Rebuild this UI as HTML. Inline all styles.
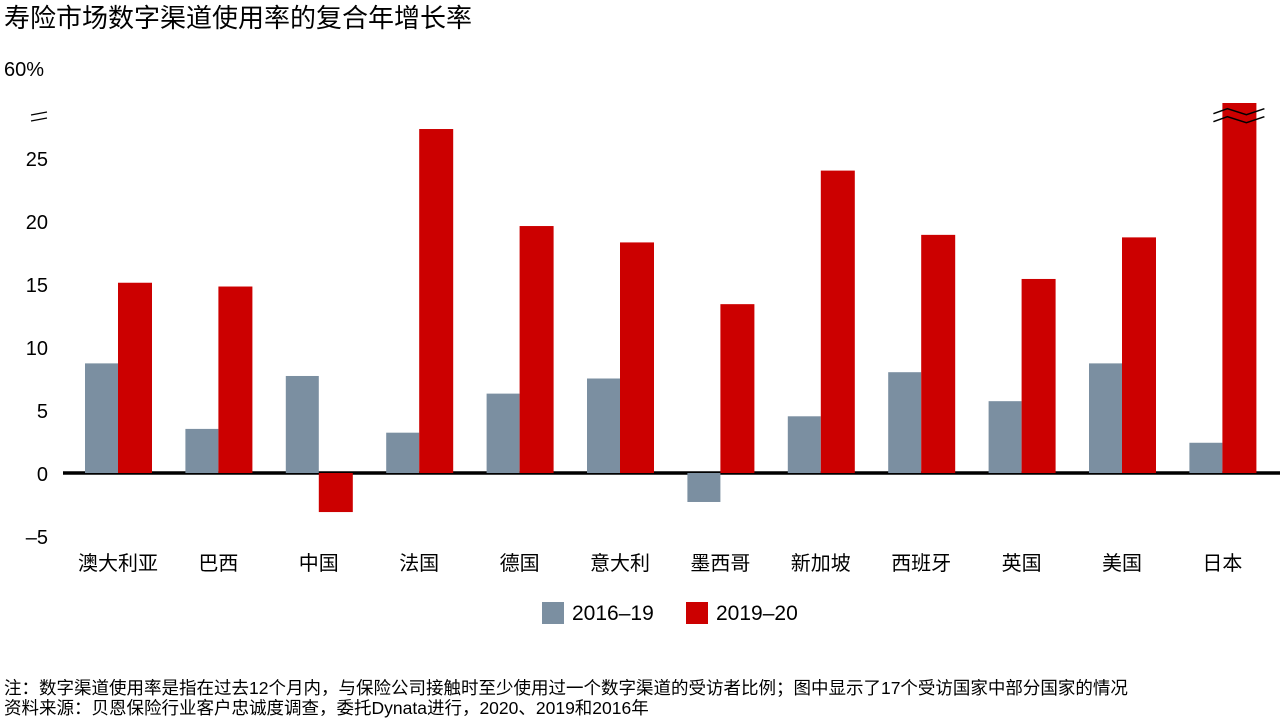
<!DOCTYPE html>
<html><head><meta charset="utf-8"><style>
body{margin:0;background:#fff;width:1280px;height:720px;overflow:hidden;font-family:"Liberation Sans","Noto Sans CJK SC",sans-serif;}
svg text{font-family:"Liberation Sans","Noto Sans CJK SC",sans-serif;}
</style></head><body>
<svg width="1280" height="720">
<text x="4" y="27" font-size="26" fill="#000">寿险市场数字渠道使用率的复合年增长率</text>
<g id="axis"></g>
<g id="bars"></g>
<g id="xl"></g>
<g>
<rect x="542" y="602" width="22" height="22" fill="#7b8fa1"/>
<text x="572" y="620" font-size="21">2016–19</text>
<rect x="686" y="602" width="22" height="22" fill="#cc0000"/>
<text x="716" y="620" font-size="21">2019–20</text>
</g>
<text x="4" y="694" font-size="17.5">注：数字渠道使用率是指在过去12个月内，与保险公司接触时至少使用过一个数字渠道的受访者比例；图中显示了17个受访国家中部分国家的情况</text>
<text x="4" y="714" font-size="17.5">资料来源：贝恩保险行业客户忠诚度调查，委托Dynata进行，2020、2019和2016年</text>
</svg>
<script>
const categories=["澳大利亚","巴西","中国","法国","德国","意大利","墨西哥","新加坡","西班牙","英国","美国","日本"];
const series1619=[8.7,3.5,7.7,3.2,6.3,7.5,-2.3,4.5,8.0,5.7,8.7,2.4];
const series1920=[15.1,14.8,-3.1,27.3,19.6,18.3,13.4,24.0,18.9,15.4,18.7,39];
const tickVals=[-5,0,5,10,15,20,25];
const tickLabels=["–5","0","5","10","15","20","25"];
const NS="http://www.w3.org/2000/svg";
function y(v){ if(v<=30) return 473-v*12.6; return 118-(v-30)*(50/30); }
function xc(i){ return 118+i*100.4; }
function mk(t,a,p){const e=document.createElementNS(NS,t);for(const k in a)e.setAttribute(k,a[k]);p.appendChild(e);return e;}
const ax=document.getElementById('axis'),bars=document.getElementById('bars'),xl=document.getElementById('xl');
tickVals.forEach((v,i)=>{const t=mk('text',{x:48,y:y(v)+8,'font-size':20,'text-anchor':'end'},ax);t.textContent=tickLabels[i];

});
const topLbl=mk('text',{x:4,y:76,'font-size':20},ax);topLbl.textContent="60%";


mk('path',{d:'M31 115 L47 112 M31 121 L47 118',stroke:'#000','stroke-width':1.3,fill:'none'},ax);
categories.forEach((c,i)=>{
 const c0=xc(i);
 const v1=series1619[i],v2=series1920[i];
 const r1=mk('rect',{x:c0-33,y:Math.min(y(v1),y(0)),width:33,height:Math.abs(y(v1)-y(0)),fill:'#7b8fa1'},bars);
 
 
 const r2=mk('rect',{x:c0,y:Math.min(y(v2),y(0)),width:34,height:Math.abs(y(v2)-y(0)),fill:'#cc0000'},bars);
 
 
 if(v2>30){const yy=y(28.2);mk('path',{d:`M${c0-9} ${yy-4} L${c0+5} ${yy-9} L${c0+24} ${yy-3} L${c0+42} ${yy-9} M${c0-9} ${yy+4} L${c0+5} ${yy-1} L${c0+24} ${yy+5} L${c0+42} ${yy-1}`,stroke:'#000','stroke-width':1.5,fill:'none'},bars);}
 const t=mk('text',{x:c0,y:570,'font-size':20,'text-anchor':'middle'},xl);t.textContent=c;
 
 
});
const zl=mk('line',{x1:63,x2:1280,y1:y(0),y2:y(0),stroke:'#000','stroke-width':3.5},ax);


</script>
</body></html>
